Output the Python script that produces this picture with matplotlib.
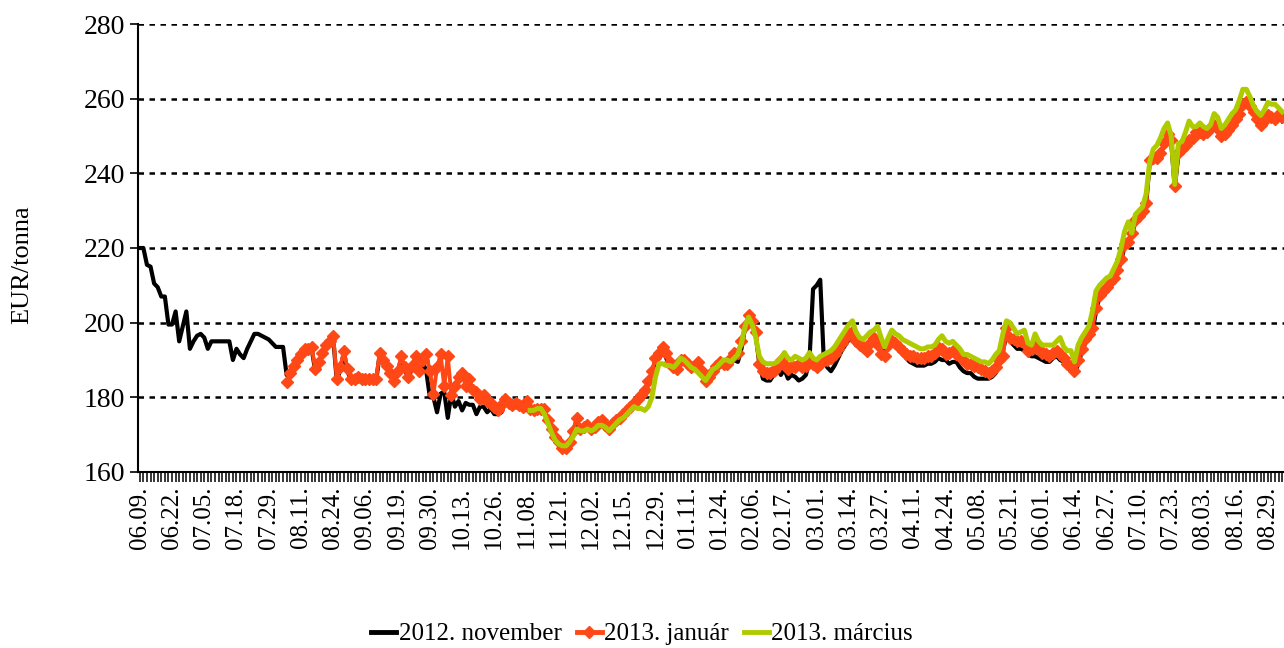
import numpy as np
import matplotlib
matplotlib.use("Agg")
import matplotlib.pyplot as plt
from matplotlib.lines import Line2D

plt.rcParams['font.family'] = ['Liberation Serif', 'DejaVu Serif']

# tick labels, one every 9 trading days
dates = ['06.09.', '06.22.', '07.05.', '07.18.', '07.29.', '08.11.', '08.24.', '09.06.',
         '09.19.', '09.30.', '10.13.', '10.26.', '11.08.', '11.21.', '12.02.', '12.15.',
         '12.29.', '01.11.', '01.24.', '02.06.', '02.17.', '03.01.', '03.14.', '03.27.',
         '04.11.', '04.24.', '05.08.', '05.21.', '06.01.', '06.14.', '06.27.', '07.10.',
         '07.23.', '08.03.', '08.16.', '08.29.']

nan = np.nan

# 2012. november contract (EUR/tonna)
nov_2012 = [
    220, 220, 215.5, 215, 210.5, 209.5, 207, 207, 199.5,
    199.5, 203, 195, 199, 203, 193, 195, 196.5, 197,
    196, 193, 195, 195, 195, 195, 195, 195, 190,
    193, 191.5, 190.5, 193, 195, 197, 197, 196.5, 196,
    195.5, 194.5, 193.5, 193.5, 193.5, 186, 186.5, 188, 189.5,
    191, 192.5, 192.5, 193, 187, 189, 191.5, 193.5, 194.5,
    196, 184.5, 187.5, 192, 187, 184.5, 184.5, 185, 184.5,
    184.5, 184.5, 184.5, 184.5, 191.5, 189.5, 188, 186, 184,
    186.5, 190.5, 187.5, 185, 188, 190.5, 186.5, 189.5, 187,
    180, 180, 176, 181, 181.5, 174.5, 181, 177.5, 179,
    176.5, 178.5, 178, 178, 175.5, 177.5, 177.5, 176, 177,
    175.5, 175.5, 176, 179, 178, 177.5, 178, 177.5, 177,
    178.5, 176.5, 176, 176.5, 176.5, 176.5, 173.5, 171, 169,
    167.5, 166, 166, 167.5, 170.5, 174, 171, 171.5, 172,
    171, 171.5, 173, 173.5, 172, 171, 172.5, 173.5, 174,
    175, 176, 177, 178, 179, 180, 181.5, 184, 186.5,
    190, 191.5, 193, 190.5, 188, 187.5, 187, 189.5, 189.5,
    188.5, 187.5, 188, 189, 186.5, 184, 185, 186.5, 188,
    189, 188.5, 188.5, 189.5, 190, 189.5, 193, 198.5, 201.5,
    200, 196.5, 189, 185, 184.5, 184.5, 186, 188, 186,
    187.5, 185, 186, 185.5, 184.5, 185, 186, 190, 209,
    210, 211.5, 190, 188, 187, 188.5, 190.5, 192.5, 194,
    195.5, 195.5, 194, 194.5, 194, 194, 195, 196, 194.5,
    192.5, 192.5, 193, 194.5, 195, 193, 192, 190.5, 189.5,
    189, 188.5, 188.5, 188.5, 189, 189, 189.5, 190.5, 190,
    190, 189, 189.5, 189.5, 188, 187, 186.5, 186.5, 185.5,
    185, 185, 185, 185, 185.5, 186.5, 190, 192.5, 196.5,
    195, 194, 193, 193, 192.5, 191.5, 191, 191, 190.5,
    190, 189.5, 189.5, 190.5, 191, 190, 189.5, 188, 187,
    186, 189, 192, 194.5, 196, 197.5, 203, 207, 208,
    209, 210.5, 211.5, 213.5, 216.5, 220.5, 221, 223.5, 227,
    228, 229.5, 231.5, 243, 243.5, 243.5, 245, 247.5, 250,
    248.5, 236, 245, 246, 247, 248.5, 249, 250.5, 250.5,
    250, 250.5, 252, 252.5, 251.5, 249.5, 250, 251, 252.5,
    254, 255.5, 258, 258.5, 257.5, 256, 254, 252.5, 253.5,
    255, 254.5, 254, 255.5, 254,
]

# 2013. január contract
jan_2013 = [nan] * 41 + [
    184, 186.5, 188.5, 190,
    191.5, 193, 193, 193.5, 187.5, 189.5, 192, 194, 195,
    196.5, 185, 188, 192.5, 187.5, 185, 185, 185.5, 185,
    185, 185, 185, 185, 192, 190, 188.5, 186.5, 184.5,
    187, 191, 188, 185.5, 188.5, 191, 187, 190, 191.5,
    187, 181, 188, 191.5, 183, 191, 180.5, 183, 185.5,
    186.5, 183, 185, 182, 181.5, 179.5, 180.5, 179, 178.5,
    177.5, 176.5, 178, 179.5, 178.5, 178, 178.5, 178, 177.5,
    179, 177, 176.5, 177, 177, 177, 174, 171.5, 169.5,
    168, 166.5, 166.5, 168, 171, 174.5, 171.5, 172, 172.5,
    171.5, 172, 173.5, 174, 172.5, 171.5, 173, 174, 174.5,
    175.5, 176.5, 177.5, 178.5, 179.5, 180.5, 182, 184.5, 187,
    190.5, 192, 193.5, 192, 189.5, 188, 187.5, 190, 190,
    189, 188, 188.5, 189.5, 187, 184.5, 185.5, 187, 188.5,
    189.5, 189, 189, 190.5, 192, 192, 195, 199, 202,
    200.5, 197.5, 189, 187, 186.5, 186.5, 187, 188, 190,
    189, 187.5, 188.5, 188, 189, 188, 188.5, 190, 189,
    188, 189, 190, 190, 190.5, 191.5, 193, 194.5, 196,
    197, 197.5, 195, 194, 193.5, 192.5, 194.5, 196, 194,
    191.5, 191, 194, 195, 194.5, 193.5, 192.5, 191.5, 191,
    191, 190.5, 190.5, 190.5, 191, 191, 192, 193.5, 193,
    191.5, 192, 192.5, 191.5, 191, 190, 189, 189, 188.5,
    188, 187.5, 187, 186.5, 187, 188, 190, 191, 198.5,
    196, 195.5, 195, 195, 194.5, 192.5, 193, 193.5, 193,
    192, 191.5, 191, 192, 192.5, 191.5, 190.5, 189, 188.5,
    187, 190, 193, 195.5, 197, 198.5, 204, 207.5, 208.5,
    209.5, 211, 212, 214, 217, 221, 221.5, 224, 227.5,
    228.5, 230, 232, 243.5, 244, 244, 245.5, 248, 250.5,
    249, 236.5, 245.5, 246.5, 247.5, 249, 249.5, 251, 251,
    250.5, 251, 252.5, 253, 252, 250, 250.5, 251.5, 253,
    254.5, 256, 258.5, 259, 258, 256.5, 254.5, 253, 254,
    255.5, 255, 254.5, 256, 255,
]

# 2013. március contract
mar_2013 = [nan] * 109 + [
    176.5, 176.5, 177, 177, 175.5, 173, 170.5, 168.5,
    167.5, 167, 167, 168, 169.5, 171.5, 171, 171, 171.5,
    171, 171.5, 172.5, 172.5, 172, 171, 172, 173, 174,
    174.5, 175.5, 176.5, 177.5, 177, 177, 176.5, 177.5, 180,
    185.5, 189, 189, 188.5, 188.5, 188, 189, 190.5, 190,
    189, 188, 187.5, 186.5, 185.5, 184.5, 186, 187.5, 188,
    189, 190, 190, 189.5, 190.5, 191.5, 194.5, 199, 201.5,
    199.5, 196, 191, 189.5, 189, 189, 189, 189.5, 190.5,
    192, 190.5, 190, 191, 190.5, 190, 190.5, 192, 190.5,
    190, 191, 191.5, 192, 192.5, 193.5, 195, 196.5, 198,
    199.5, 200.5, 197.5, 196, 195.5, 196.5, 197.5, 198, 199,
    196, 193.5, 196, 198, 197, 196.5, 195.5, 195, 194.5,
    194, 193.5, 193, 193, 193.5, 193.5, 194, 195.5, 196.5,
    195, 194.5, 195, 194, 193, 191.5, 191.5, 191, 190.5,
    190, 189.5, 189.5, 189, 190, 191.5, 192.5, 197, 200.5,
    200, 198.5, 197, 197.5, 198, 194.5, 194, 197, 195,
    194, 194, 194, 194, 195, 196, 193.5, 192.5, 192.5,
    189.5, 194, 196, 197.5, 199, 203, 208.5, 210, 211,
    212, 212.5, 214.5, 216.5, 220, 224.5, 227, 224, 229,
    230, 231, 234.5, 243, 246.5, 247.5, 249.5, 252, 253.5,
    250, 237, 248, 248.5, 251, 254, 252.5, 252.5, 253.5,
    252.5, 252, 253, 256, 255, 252, 253, 254.5, 256,
    257, 259.5, 262.5, 262.5, 260.5, 258, 256.5, 255.5, 257,
    259, 258.5, 258.5, 257.5, 256.5,
]

c_nov = 'black'
c_jan = '#FF4816'
c_mar = '#AFCB00'

x = np.arange(len(nov_2012))

fig = plt.figure(figsize=(12.84, 6.48), dpi=100)
ax = fig.add_axes([138 / 1284, 1 - 472 / 648, 1 - 138 / 1284, (472 - 24) / 648])

ax.plot(x, nov_2012, color=c_nov, lw=3.0, zorder=3)
ax.plot(x, jan_2013, color=c_jan, lw=2.8, marker='D', ms=6.5, mec=c_jan, zorder=4)
ax.plot(x, mar_2013, color=c_mar, lw=3.6, zorder=5)

ax.set_xlim(-0.5, len(x) - 0.5)
ax.set_ylim(160, 280)
ax.set_yticks(np.arange(160, 281, 20))
ax.tick_params(axis='y', labelsize=20, length=6, width=1.2, direction='out')

tick_pos = np.arange(0, len(x), 9)
ax.set_xticks(tick_pos)
ax.set_xticklabels(dates, rotation=90, fontsize=18)
ax.set_xticks(x, minor=True)
ax.tick_params(axis='x', which='both', length=7, width=1.1, direction='out')

for v in range(180, 281, 20):
    ax.axhline(v, color='black', lw=1.8, ls=(0, (2.2, 2.2)), zorder=1)

for s in ['top', 'right']:
    ax.spines[s].set_visible(False)
ax.spines['left'].set_linewidth(1.5)
ax.spines['bottom'].set_linewidth(1.5)

fig.text(22 / 1284, 1 - 265 / 648, 'EUR/tonna', rotation=90, fontsize=19,
         ha='center', va='center')

handles = [
    Line2D([], [], color=c_nov, lw=3.5),
    Line2D([], [], color=c_jan, lw=3.5, marker='D', ms=6.5),
    Line2D([], [], color=c_mar, lw=3.5),
]
fig.legend(handles, ['2012. november', '2013. január', '2013. március'],
           loc='center', bbox_to_anchor=(0.5, 1 - 634 / 648), ncol=3,
           frameon=False, fontsize=18, handlelength=1.0, handletextpad=0.1,
           columnspacing=0.6)

fig.savefig('out.png', dpi=100)
